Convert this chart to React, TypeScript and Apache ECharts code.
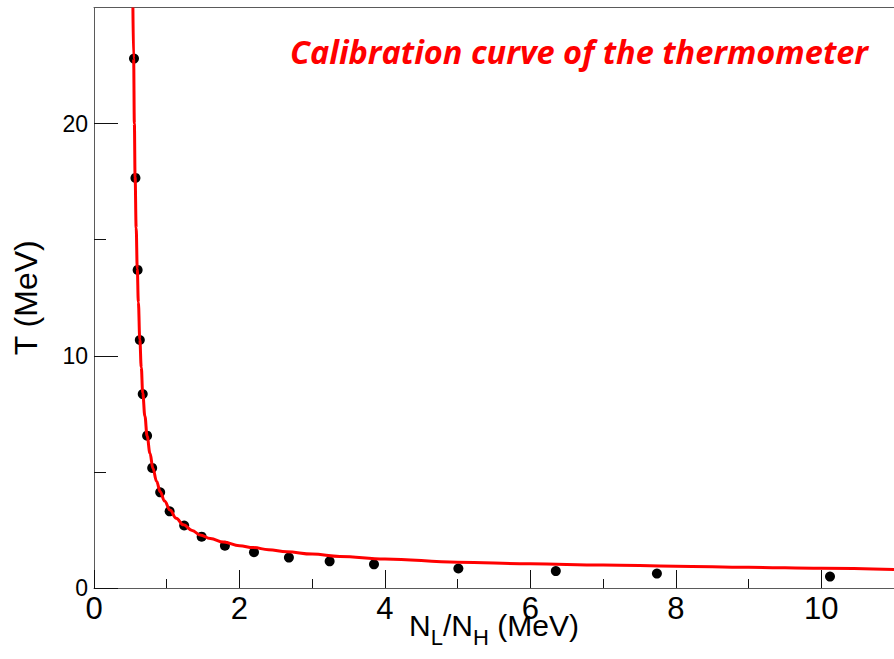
import React, { useEffect, useRef } from "react";
import * as echarts from "echarts";

// Measured points: ratio N_L/N_H and temperature T (MeV)
const pointX = [0.55, 0.57, 0.6, 0.63, 0.67, 0.73, 0.8, 0.91, 1.04, 1.24, 1.48, 1.8, 2.2, 2.68, 3.24, 3.85, 5.01, 6.35, 7.74, 10.12];
const pointT = [22.8, 17.66, 13.7, 10.68, 8.35, 6.56, 5.17, 4.12, 3.3, 2.69, 2.21, 1.82, 1.54, 1.31, 1.15, 1.02, 0.84, 0.73, 0.62, 0.49];

// Calibration curve
const curveX = [0.535, 0.545, 0.555, 0.565, 0.58, 0.595, 0.61, 0.63, 0.65, 0.67, 0.7, 0.73, 0.77, 0.81, 0.86, 0.91, 0.97, 1.045, 1.13, 1.23, 1.35, 1.46, 1.6, 1.78, 2.0, 2.19, 2.4, 2.65, 3.0, 3.38, 4, 5, 6, 7, 8, 9, 10, 11];
const curveT = [25, 22.8, 20.0, 17.7, 15.5, 13.75, 12.3, 10.7, 9.5, 8.4, 7.4, 6.55, 5.8, 5.16, 4.6, 4.15, 3.75, 3.36, 3.0, 2.72, 2.48, 2.28, 2.13, 1.98, 1.82, 1.74, 1.65, 1.56, 1.46, 1.36, 1.25, 1.11, 1.04, 0.99, 0.94, 0.89, 0.85, 0.8];

// Axis ticks and labels
const xMajorTicks = [0, 2, 4, 6, 8, 10];
const xMinorTicks = [1, 3, 5, 7, 9, 11];
const yMajorTicks = [0, 10, 20];
const yMinorTicks = [5, 15];

const titleText = "Calibration curve of the thermometer";

const FONT = "'Liberation Sans', Arial, sans-serif";

export default function App() {
  const ref = useRef<HTMLDivElement>(null);
  useEffect(() => {
    if (!ref.current) return;
    const chart = echarts.init(ref.current, undefined, { renderer: "svg" });
    const axisLineColor = "#5a5a5a";
    const tickColor = "#111";
    chart.setOption({
      animation: false,
      backgroundColor: "#fff",
      grid: { left: 94, right: 0, top: 7.5, bottom: 71, containLabel: false, outerBoundsMode: "none" },
      xAxis: [
        {
          type: "value",
          position: "bottom",
          min: 0,
          max: 11,
          interval: 1,
          splitLine: { show: false },
          axisLine: { show: true, onZero: false, lineStyle: { color: axisLineColor, width: 1 } },
          axisTick: { show: true, inside: true, length: 18, customValues: xMajorTicks, lineStyle: { color: tickColor, width: 1 } },
          axisLabel: { customValues: xMajorTicks, fontSize: 31, color: "#000", fontFamily: FONT, margin: 5 },
          name: "{a|N}{b|L}{a|/N}{b|H}{a| (MeV)}",
          nameLocation: "middle",
          nameGap: 22,
          nameMoveOverlap: false,
          nameTextStyle: {
            rich: {
              a: { fontSize: 30, lineHeight: 30, fontFamily: FONT, color: "#000", verticalAlign: "top" },
              b: { fontSize: 22, lineHeight: 22, fontFamily: FONT, color: "#000", verticalAlign: "top", padding: [16, 0, 0, 0] },
            },
          },
        },
        {
          type: "value",
          position: "bottom",
          min: 0,
          max: 11,
          interval: 1,
          splitLine: { show: false },
          axisLine: { show: false, onZero: false },
          axisTick: { show: true, inside: true, length: 9, customValues: xMinorTicks, lineStyle: { color: tickColor, width: 1 } },
          axisLabel: { show: false },
        },
        {
          type: "value",
          position: "top",
          min: 0,
          max: 11,
          splitLine: { show: false },
          axisLine: { show: true, onZero: false, lineStyle: { color: axisLineColor, width: 1 } },
          axisTick: { show: false },
          axisLabel: { show: false },
        },
      ],
      yAxis: [
        {
          type: "value",
          position: "left",
          min: 0,
          max: 25,
          interval: 5,
          splitLine: { show: false },
          axisLine: { show: true, onZero: false, lineStyle: { color: axisLineColor, width: 1 } },
          axisTick: { show: true, inside: true, length: 24, customValues: yMajorTicks, lineStyle: { color: tickColor, width: 1 } },
          axisLabel: { customValues: yMajorTicks, fontSize: 23, color: "#000", fontFamily: FONT, margin: 6 },
          name: "T (MeV)",
          nameLocation: "middle",
          nameGap: 52,
          nameMoveOverlap: false,
          nameTextStyle: { fontSize: 32, fontFamily: FONT, color: "#000" },
        },
        {
          type: "value",
          position: "left",
          min: 0,
          max: 25,
          interval: 5,
          splitLine: { show: false },
          axisLine: { show: false, onZero: false },
          axisTick: { show: true, inside: true, length: 12, customValues: yMinorTicks, lineStyle: { color: tickColor, width: 1 } },
          axisLabel: { show: false },
        },
      ],
      graphic: [
        {
          type: "text",
          right: 26,
          top: 35,
          style: {
            text: titleText,
            fontSize: 32.5,
            fontWeight: "bold",
            fontStyle: "italic",
            fontFamily: "'Open Sans', 'Noto Sans', sans-serif",
            fill: "#ff0000",
          },
          z: 100,
        },
      ],
      series: [
        {
          type: "scatter",
          xAxisIndex: 0,
          yAxisIndex: 0,
          data: pointX.map((x, i) => [x, pointT[i]]),
          symbol: "circle",
          symbolSize: 10,
          itemStyle: { color: "#000", opacity: 1 },
          z: 2,
          silent: true,
        },
        {
          type: "line",
          xAxisIndex: 0,
          yAxisIndex: 0,
          data: curveX.map((x, i) => [x, curveT[i]]),
          showSymbol: false,
          symbol: "none",
          smooth: 0.4,
          smoothMonotone: "x",
          clip: true,
          lineStyle: { color: "#ff0000", width: 3 },
          z: 3,
          silent: true,
        },
      ],
    });
    return () => chart.dispose();
  }, []);
  return (
    <div
      ref={ref}
      style={{ position: "fixed", left: 0, top: 0, width: 894, height: 659, background: "#fff" }}
    />
  );
}
